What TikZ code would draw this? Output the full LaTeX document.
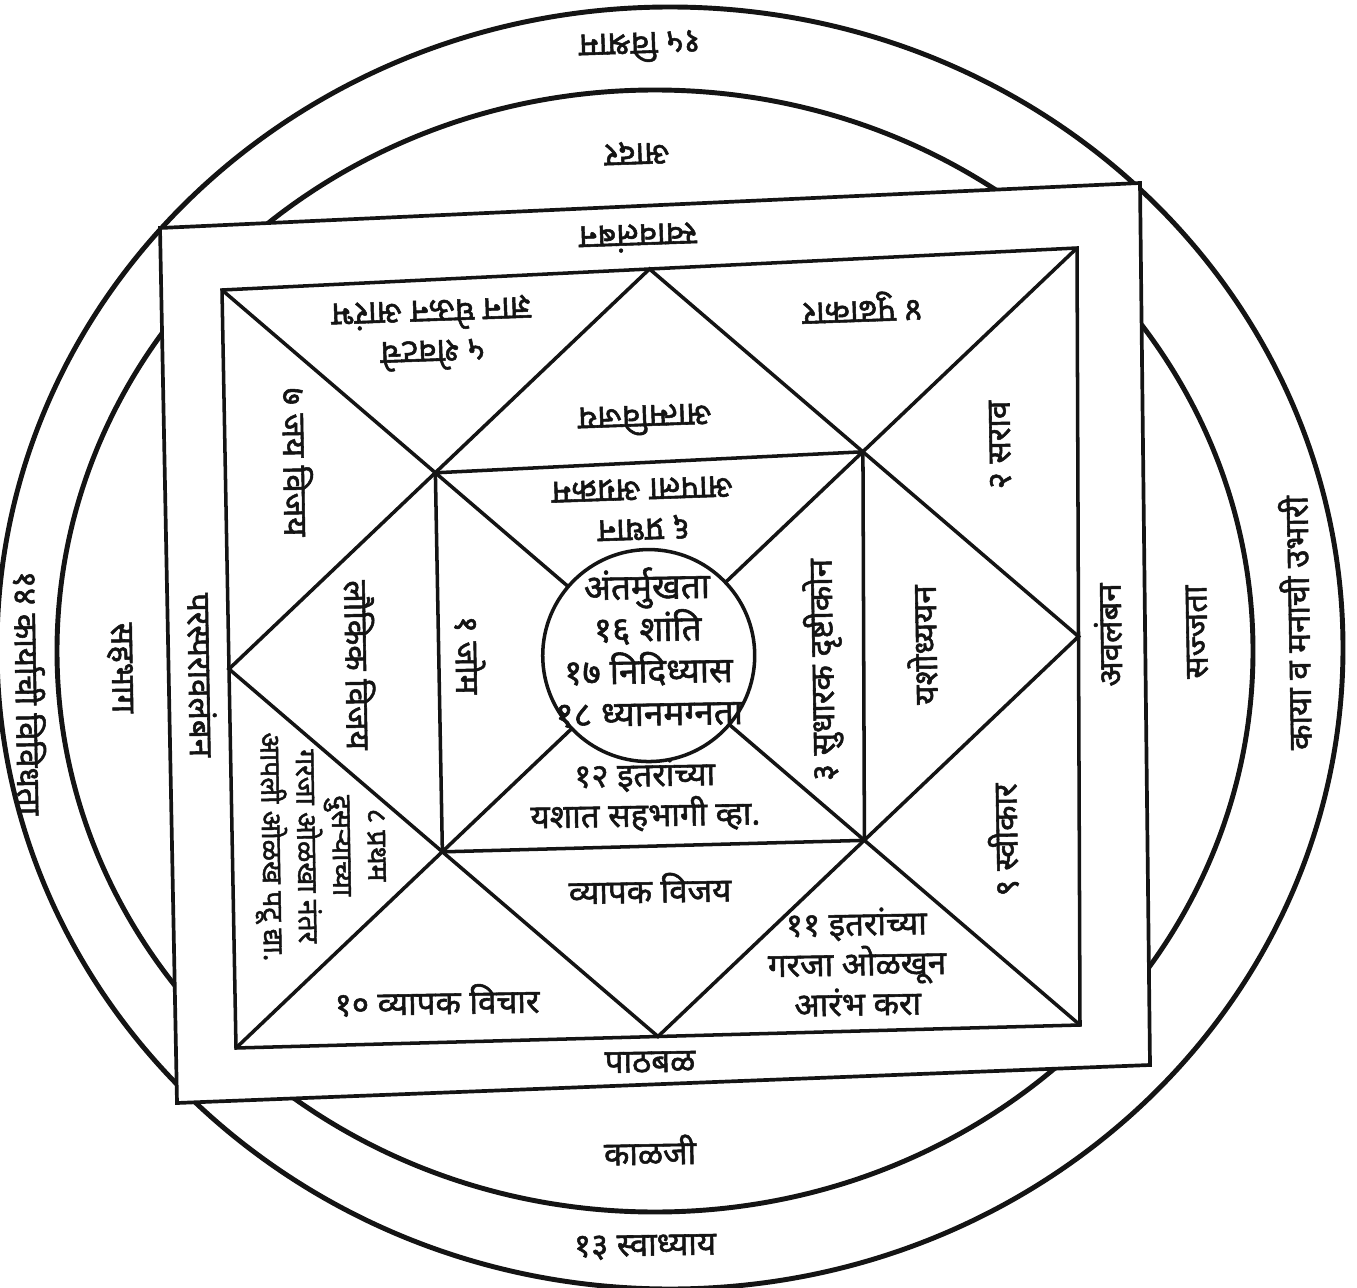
\documentclass[tikz,border=0pt]{standalone}
\usepackage{fontspec}
\newfontfamily\devfont[Script=Devanagari, BoldFont={Noto Sans},
  BoldFeatures={FakeBold=1.6}]{Noto Sans}
\usetikzlibrary{calc}
\definecolor{ink}{HTML}{141414}

\begin{document}
\begin{tikzpicture}[
    x=0.01cm, y=-0.01cm,
    ring/.style={draw=ink, line width=1.4pt},
    frame/.style={draw=ink, line width=1.05pt, fill=white},
    grid/.style={draw=ink, line width=1.0pt},
    lbl/.style={
      font=\devfont\bfseries\fontsize{9.4}{11.4}\selectfont,
      text=ink, align=center, inner sep=1pt
    },
    updn/.style={lbl, rotate=182},
    upr/.style={lbl, rotate=1},
    lside/.style={lbl, rotate=-89},
    rside/.style={lbl, rotate=91},
    smalltxt/.style={font=\devfont\bfseries\fontsize{8}{10}\selectfont},
    coretxt/.style={font=\devfont\bfseries\fontsize{10}{12}\selectfont}
  ]
  \useasboundingbox (0,0) rectangle (1357,1288);

  % Vartule
  \draw[ring] (670,648) ellipse [x radius=673, y radius=641];
  \draw[ring] (655,651) ellipse [x radius=598, y radius=561];

  % Bahercha chaukon
  \coordinate (oTL) at (160,228);
  \coordinate (oTR) at (1140,183);
  \coordinate (oBR) at (1150,1065);
  \coordinate (oBL) at (177,1103);
  \draw[frame] (oTL) -- (oTR) -- (oBR) -- (oBL) -- cycle;

  % Kundali
  \coordinate (TL) at (222,290);
  \coordinate (TR) at (1077,248);
  \coordinate (BR) at (1080,1025);
  \coordinate (BL) at (236,1048);
  \coordinate (mT) at ($(TL)!0.5!(TR)$);
  \coordinate (mR) at ($(TR)!0.5!(BR)$);
  \coordinate (mB) at ($(BR)!0.5!(BL)$);
  \coordinate (mL) at ($(BL)!0.5!(TL)$);
  \draw[grid] (TL) -- (TR) -- (BR) -- (BL) -- cycle;
  \draw[grid] (mT) -- (mR) -- (mB) -- (mL) -- cycle;
  \draw[grid] (TL) -- (BR);
  \draw[grid] (TR) -- (BL);

  \coordinate (qTL) at (intersection of TL--BR and mT--mL);
  \coordinate (qTR) at (intersection of TR--BL and mT--mR);
  \coordinate (qBR) at (intersection of TL--BR and mR--mB);
  \coordinate (qBL) at (intersection of TR--BL and mB--mL);
  \draw[grid] (qTL) -- (qTR) -- (qBR) -- (qBL) -- cycle;

  \coordinate (ctr) at (intersection of TL--BR and TR--BL);
  \draw[grid, fill=white] (ctr) circle [radius=106];

  % Bahercha vartul
  \node[updn]  (vishram)   at (640,47)   {१५ विश्राम};
  \node[lside] (vividhata) at (30,693)   {१४ कार्याची विविधता};
  \node[rside] (ubhari)    at (1295,623) {काया व मनाची उभारी};
  \node[upr]   (swadhyay)  at (645,1247) {१३ स्वाध्याय};

  % Dusre vartul
  \node[updn]  (aadar)    at (637,153)  {आदर};
  \node[lside] (sahabhag) at (120,668)  {सहभाग};
  \node[rside] (sajjata)  at (1197,632) {सज्जता};
  \node[upr]   (kalaji)   at (650,1150) {काळजी};

  % Chaukonachi patti
  \node[updn]  (swaval)  at (638,238)  {स्वावलंबन};
  \node[lside] (parasp)  at (202,675)  {परस्परावलंबन};
  \node[rside] (aval)    at (1108,635) {अवलंबन};
  \node[upr]   (pathbal) at (650,1062) {पाठबळ};

  % Kundalitil ghar
  \node[updn]  (shevat)    at (432,334) {५ शेवटचे\\ज्ञान घेऊन आरंभ};
  \node[updn]  (pudhakar)  at (862,307) {४ पुढाकार};
  \node[updn]  (atmavijay) at (645,420) {आत्मविजय};
  \node[updn]  (agrakram)  at (643,509) {६ प्रधान\\आपला अग्रक्रम};
  \node[lside] (jayvijay)  at (298,462) {७ जय विजय};
  \node[lside] (laukik)    at (360,665) {लौकिक विजय};
  \node[lside] (jom)       at (470,655) {१ जोम};
  \node[lside, smalltxt] (pratham) at (320,846)
    {८ प्रथम\\दुसऱ्याच्या\\गरजा ओळखा नंतर\\आपली ओळख पटू द्या.};
  \node[rside] (sarav)     at (1000,445) {२ सराव};
  \node[rside] (yasho)     at (922,645)  {यशोध्ययन};
  \node[rside] (sudharak)  at (823,670)  {३ सुधारक दृष्टीकोन};
  \node[rside] (swikar)    at (1003,840) {९ स्वीकार};
  \node[upr]   (yashat)    at (645,795)  {१२ इतरांच्या\\यशात सहभागी व्हा.};
  \node[upr]   (vyapak)    at (650,888)  {व्यापक विजय};
  \node[upr]   (vichar)    at (437,1000) {१० व्यापक विचार};
  \node[upr]   (arambh)    at (857,962)  {११ इतरांच्या\\गरजा ओळखून\\आरंभ करा};

  % Madhyabhag
  \node[upr, coretxt] (antar) at (648,647)
    {अंतर्मुखता\\१६ शांति\\१७ निदिध्यास\\१८ ध्यानमग्नता};

\end{tikzpicture}
\end{document}
